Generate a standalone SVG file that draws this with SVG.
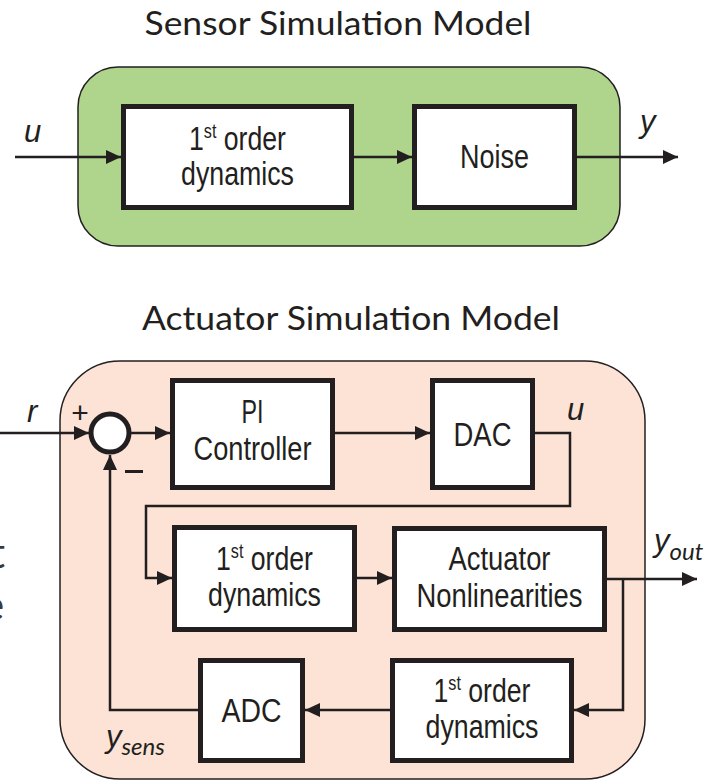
<svg xmlns="http://www.w3.org/2000/svg" width="717" height="781" viewBox="0 0 717 781">
<style>
.title{font-family:Lato,"Open Sans","Liberation Sans",sans-serif;font-size:32px;fill:#231f20;text-anchor:middle}
.blk{fill:#fff;stroke:#231f20;stroke-width:5}
.bt{font-family:"Liberation Sans",Arial,sans-serif;font-size:33px;fill:#231f20;text-anchor:middle}
.sup{font-size:20px}
.var{font-family:"Liberation Sans",Arial,sans-serif;font-style:italic;font-size:31px;fill:#231f20}
.sub{font-family:Lato,"Open Sans",sans-serif;font-style:italic;font-size:24px}
.sign{font-family:"Liberation Sans",Arial,sans-serif;font-size:30px;fill:#231f20;text-anchor:middle}
.ln{fill:none;stroke:#231f20;stroke-width:2.5}
.ar{marker-end:url(#ah)}
.side{font-family:Lato,"Open Sans",sans-serif;font-size:42px;fill:#3a3a3a}
</style>
<defs>
<marker id="ah" markerUnits="userSpaceOnUse" markerWidth="16" markerHeight="14" refX="15" refY="7" orient="auto">
<path d="M0,0 L15,7 L0,14 Z" fill="#231f20"/>
</marker>
</defs>

<text class="side" x="-10" y="568">t</text>
<text class="side" x="-18" y="620">e</text>

<g id="sensor-model">
<text class="title" x="338" y="35" textLength="387" lengthAdjust="spacingAndGlyphs">Sensor Simulation Model</text>
<rect x="78" y="67" width="542" height="179" rx="40" fill="#aed58b" stroke="#231f20" stroke-width="1.5"/>
</g>
<g id="s-first-order">
<rect class="blk" x="123.5" y="106.5" width="228" height="101"/>
<text class="bt" x="237.5" y="150" textLength="97" lengthAdjust="spacingAndGlyphs">1<tspan class="sup" dy="-12">st</tspan><tspan dy="12"> order</tspan></text>
<text class="bt" x="237.5" y="185" textLength="113" lengthAdjust="spacingAndGlyphs">dynamics</text>
</g>
<g id="s-noise">
<rect class="blk" x="414.5" y="106.5" width="160" height="101"/>
<text class="bt" x="494.5" y="168" textLength="69" lengthAdjust="spacingAndGlyphs">Noise</text>
</g>

<g id="actuator-model">
<text class="title" x="351" y="330" textLength="418" lengthAdjust="spacingAndGlyphs">Actuator Simulation Model</text>
<rect x="60" y="361" width="585" height="418" rx="60" fill="#fce3d6" stroke="#231f20" stroke-width="1.5"/>
</g>
<g id="sum">
<circle cx="110" cy="433" r="19" fill="#fff" stroke="#231f20" stroke-width="5"/>
<text class="sign" x="80" y="423">+</text>
<rect x="125" y="470" width="18" height="3" fill="#231f20"/>
</g>
<g id="pi">
<rect class="blk" x="172.5" y="380.5" width="160" height="107"/>
<text class="bt" x="252.5" y="423" textLength="22" lengthAdjust="spacingAndGlyphs">PI</text>
<text class="bt" x="252.5" y="460" textLength="118" lengthAdjust="spacingAndGlyphs">Controller</text>
</g>
<g id="dac">
<rect class="blk" x="432.5" y="380.5" width="100" height="107"/>
<text class="bt" x="482.5" y="446" textLength="58" lengthAdjust="spacingAndGlyphs">DAC</text>
</g>
<g id="a-first-order">
<rect class="blk" x="174.5" y="527.5" width="180" height="102"/>
<text class="bt" x="264.5" y="570" textLength="97" lengthAdjust="spacingAndGlyphs">1<tspan class="sup" dy="-12">st</tspan><tspan dy="12"> order</tspan></text>
<text class="bt" x="264.5" y="606" textLength="113" lengthAdjust="spacingAndGlyphs">dynamics</text>
</g>
<g id="nonlin">
<rect class="blk" x="394.5" y="528.5" width="210" height="101"/>
<text class="bt" x="499.5" y="570" textLength="102" lengthAdjust="spacingAndGlyphs">Actuator</text>
<text class="bt" x="499.5" y="607" textLength="166" lengthAdjust="spacingAndGlyphs">Nonlinearities</text>
</g>
<g id="sensor-first-order">
<rect class="blk" x="392.5" y="660.5" width="179" height="100"/>
<text class="bt" x="482" y="702" textLength="97" lengthAdjust="spacingAndGlyphs">1<tspan class="sup" dy="-12">st</tspan><tspan dy="12"> order</tspan></text>
<text class="bt" x="482" y="738" textLength="113" lengthAdjust="spacingAndGlyphs">dynamics</text>
</g>
<g id="adc">
<rect class="blk" x="200.5" y="660.5" width="102" height="100"/>
<text class="bt" x="251.5" y="722" textLength="60" lengthAdjust="spacingAndGlyphs">ADC</text>
</g>

<g id="connectors">
<path class="ln ar" d="M15,157 H121"/>
<path class="ln ar" d="M354,157 H412"/>
<path class="ln ar" d="M577,157 H678"/>
<path class="ln ar" d="M0,433 H89"/>
<path class="ln ar" d="M131,433 H170"/>
<path class="ln ar" d="M335,433 H430"/>
<path class="ln ar" d="M535,433 H570 V506 H146 V578 H172"/>
<path class="ln ar" d="M357,578 H392"/>
<path class="ln ar" d="M607,579 H697"/>
<path class="ln ar" d="M623,579 V710 H574"/>
<path class="ln ar" d="M390,710 H305"/>
<path class="ln ar" d="M198,710 H110 V455"/>
</g>

<g id="labels">
<text class="var" x="24" y="142">u</text>
<text class="var" x="640" y="132">y</text>
<text class="var" x="27" y="422">r</text>
<text class="var" x="567" y="420">u</text>
<text class="var" x="654" y="551">y<tspan class="sub" dy="9">out</tspan></text>
<text class="var" x="106" y="747">y<tspan class="sub" dy="8">sens</tspan></text>
</g>
</svg>
